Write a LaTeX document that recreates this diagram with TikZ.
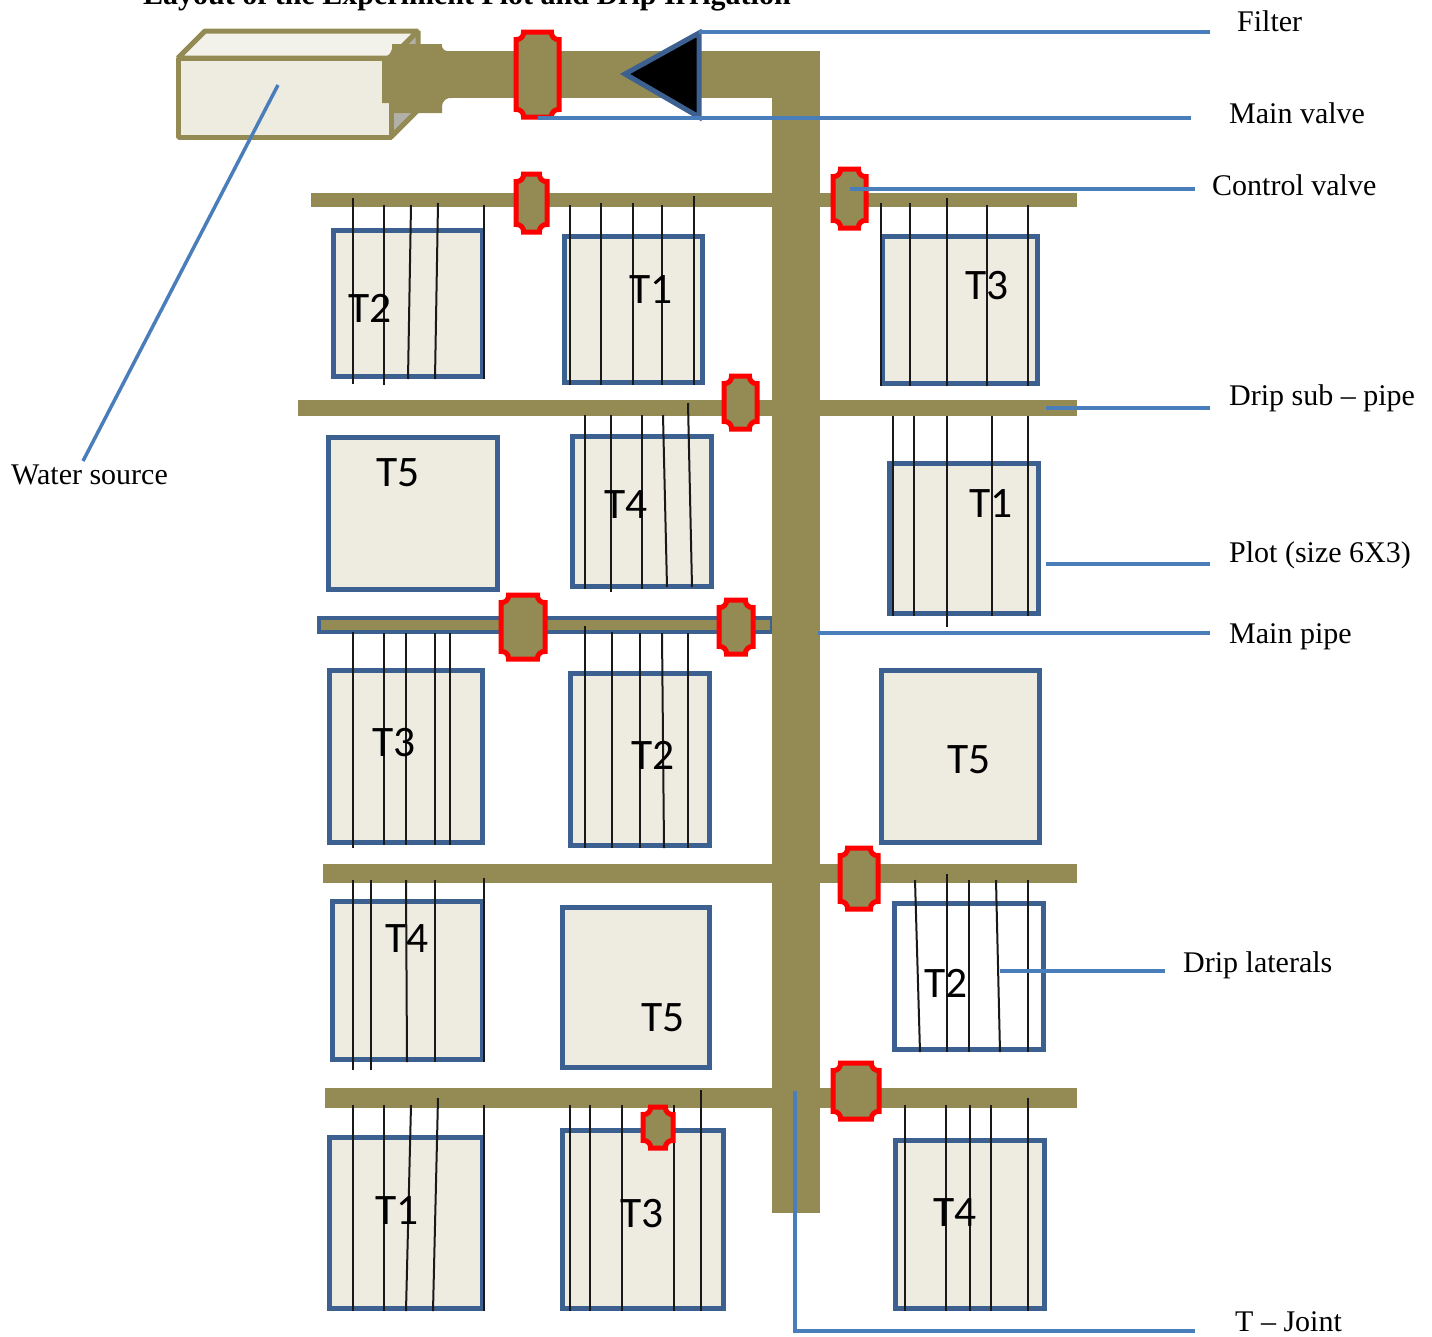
\documentclass[tikz,border=0pt]{standalone}
\usepackage{fontspec}
\setmainfont{Liberation Serif}
\newfontfamily\plotfont{Carlito}
\usetikzlibrary{positioning}

\definecolor{pipecol}{HTML}{948A54}
\definecolor{plotfill}{HTML}{EEECE1}
\definecolor{plotline}{HTML}{3C6090}
\definecolor{leadcol}{HTML}{4A7EBB}

% valve: name, centre x, centre y, outer width, outer height
\newcommand{\valve}[5]{
    \node[valvebox, minimum width=#4-5, minimum height=#5-5] (#1) at (#2,#3) {};
    \draw[valveline] ({#2-#4/2+10},{#3-#5/2+2.5}) -- ({#2+#4/2-10},{#3-#5/2+2.5})
        to[bend right=55] ({#2+#4/2-2.5},{#3-#5/2+10}) -- ({#2+#4/2-2.5},{#3+#5/2-10})
        to[bend right=55] ({#2+#4/2-10},{#3+#5/2-2.5}) -- ({#2-#4/2+10},{#3+#5/2-2.5})
        to[bend right=55] ({#2-#4/2+2.5},{#3+#5/2-10}) -- ({#2-#4/2+2.5},{#3-#5/2+10})
        to[bend right=55] cycle;
}

\begin{document}
\begin{tikzpicture}[
    x=1pt, y=-1pt,
    pipe/.style={fill=pipecol},
    plotbox/.style 2 args={rectangle, draw=plotline, fill=plotfill, line width=5pt, inner sep=0pt, outer sep=0pt, minimum width=#1, minimum height=#2},
    plotlabel/.style={font=\plotfont\fontsize{43.5}{43}\selectfont, inner sep=0pt, xshift=0.7pt, yshift=-0.7pt},
    valvebox/.style={rectangle, inner sep=0pt},
    valveline/.style={draw=red, fill=pipecol, line width=5pt, line join=miter},
    tankline/.style={draw=pipecol, line width=5pt, line join=bevel},
    drip/.style={draw=black!90, line width=2pt},
    leader/.style={draw=leadcol, line width=3.5pt},
    partname/.style={font=\fontsize{30}{30}\selectfont, inner sep=0pt, anchor=base west}
]
    \useasboundingbox (0,0) rectangle (1432,1336);

    % Title
    \node[partname, font=\bfseries\fontsize{30}{30}\selectfont] (title) at (143,4) {Layout of the Experiment Plot and Drip Irrigation};

    % Water source
    \draw[tankline, fill=plotfill!70!white] (178,58) -- (205,31) -- (418,31) -- (391,58) -- cycle;
    \draw[tankline, fill=black!25!plotfill] (391,58) -- (418,31) -- (418,110) -- (391,137) -- cycle;
    \draw[tankline, fill=plotfill] (178,58) rectangle (391,137);
    \fill[pipe] (392,44) -- (442,44) to[bend right=50] (447,51) -- (452,51) -- (452,98)
        to[bend right=50] (442,106) -- (442,113) -- (390,113) -- (390,103) -- (382,103) -- (382,58)
        to[bend right=50] cycle;

    % Pipes
    \fill[pipe] (440,51) rectangle (820,98);
    \fill[pipe] (311,193) rectangle (1077,207);
    \fill[pipe] (298,400) rectangle (1077,416);
    \draw[draw=plotline, line width=4pt, fill=pipecol] (319,618) rectangle (772,632);
    \fill[pipe] (323,864) rectangle (1077,883);
    \fill[pipe] (325,1088) rectangle (1077,1108);
    \fill[pipe] (772,51) rectangle (820,1213);

    % Filter
    \draw[draw=plotline, line width=5pt, fill=black, line join=miter] (625,74) -- (699,33) -- (699,117) -- cycle;

    % Plots
    \node[plotbox={149pt}{146pt}] (plotA) at (408,303.5) {};
    \node[plotbox={138pt}{146pt}] (plotB) at (633.5,309.5) {};
    \node[plotbox={155pt}{147pt}] (plotC) at (960,310) {};
    \node[plotbox={169pt}{152pt}] (plotD) at (413,513.5) {};
    \node[plotbox={139pt}{150pt}] (plotE) at (642,511.5) {};
    \node[plotbox={149pt}{150pt}] (plotF) at (964,538.5) {};
    \node[plotbox={153pt}{172pt}] (plotG) at (406,756.5) {};
    \node[plotbox={139pt}{172pt}] (plotH) at (640,759.5) {};
    \node[plotbox={158pt}{172pt}] (plotI) at (960.5,756.5) {};
    \node[plotbox={150pt}{158pt}] (plotJ) at (407.5,980.5) {};
    \node[plotbox={147pt}{160pt}] (plotK) at (636,987.5) {};
    \node[plotbox={149pt}{146pt}, fill=white] (plotL) at (969,976.5) {};
    \node[plotbox={153pt}{171pt}] (plotM) at (406,1223) {};
    \node[plotbox={161pt}{178pt}] (plotN) at (643,1219.5) {};
    \node[plotbox={149pt}{168pt}] (plotO) at (970,1224.5) {};

    % Drip laterals
    \foreach \xa/\ya/\xb/\yb in {
        353/198/353/384, 384/205/384/385, 411/205/408/379, 438/203/435/379, 484/205/484/379,
        570/205/570/385, 601/203/601/385, 633/203/633/385, 662/205/662/385, 694/196/694/385,
        881/203/881/386, 910/203/910/386, 947/198/947/386, 987/205/987/386, 1028/205/1028/386,
        585/415/585/589, 611/415/611/592, 642/415/642/589, 663/415/667/587, 688/403/692/587,
        893/416/893/616, 914/416/914/616, 947/416/947/627, 992/416/992/616, 1028/416/1028/616,
        353/632/353/848, 384/633/384/845, 406/633/406/845, 435/633/435/845, 450/633/450/845,
        585/626/585/848, 612/632/612/848, 640/633/640/848, 662/633/664/848, 688/633/688/848,
        353/880/353/1070, 371/880/371/1070, 406/880/407/1062, 435/880/435/1062, 484/878/484/1062,
        915/880/920/1052, 947/874/947/1052, 969/880/969/1052, 996/880/1000/1052, 1028/880/1028/1052,
        353/1105/353/1311, 384/1105/384/1311, 411/1105/406/1311, 438/1098/433/1311, 484/1105/484/1311,
        570/1105/570/1311, 590/1105/590/1311, 622/1105/622/1311, 674/1105/674/1311, 701/1090/701/1311,
        905/1105/905/1311, 946/1105/946/1311, 970/1105/970/1311, 991/1105/991/1311, 1028/1098/1028/1311}
        \draw[drip] (\xa,\ya) -- (\xb,\yb);

    % Plot labels
    \node[plotlabel] (labA) at (369,308) {T2};
    \node[plotlabel] (labB) at (650,289) {T1};
    \node[plotlabel] (labC) at (986,285) {T3};
    \node[plotlabel] (labD) at (397,472) {T5};
    \node[plotlabel] (labE) at (625,504) {T4};
    \node[plotlabel] (labF) at (990,503) {T1};
    \node[plotlabel] (labG) at (393,742) {T3};
    \node[plotlabel] (labH) at (652,755) {T2};
    \node[plotlabel] (labI) at (968,759) {T5};
    \node[plotlabel] (labJ) at (406,938) {T4};
    \node[plotlabel] (labK) at (662,1017) {T5};
    \node[plotlabel] (labL) at (945,983) {T2};
    \node[plotlabel] (labM) at (396,1210) {T1};
    \node[plotlabel] (labN) at (641,1213) {T3};
    \node[plotlabel] (labO) at (954,1212) {T4};

    % Valves
    \valve{mainv}{537.5}{74.5}{48}{90}
    \valve{ctrlA}{531.5}{203}{36}{63}
    \valve{ctrlB}{849.5}{198.5}{38}{64}
    \valve{ctrlC}{740.5}{402.5}{38}{58}
    \valve{ctrlD}{523}{627}{49}{69}
    \valve{ctrlE}{736}{627}{39}{59}
    \valve{ctrlF}{859}{878.5}{43}{66}
    \valve{ctrlG}{856}{1091}{51}{61}
    \valve{ctrlH}{658}{1127.5}{35}{46}

    % Names
    \node[partname] (filter) at (1237,31) {Filter};
    \node[partname] (mainvalve) at (1229,123) {Main valve};
    \node[partname] (ctrlvalve) at (1212,195) {Control valve};
    \node[partname] (subpipe) at (1229,405) {Drip sub -- pipe};
    \node[partname] (plotsize) at (1229,562) {Plot (size 6X3)};
    \node[partname] (mainpipe) at (1229,643) {Main pipe};
    \node[partname] (laterals) at (1183,972) {Drip laterals};
    \node[partname] (tjoint) at (1235,1331) {T -- Joint};
    \node[partname] (source) at (11,484) {Water source};

    % Leader ends
    \coordinate (srcA) at (278,85);
    \coordinate (srcB) at (83,461);
    \coordinate (filA) at (699,32);
    \coordinate (filB) at (1210,32);
    \coordinate (valA) at (538,118);
    \coordinate (valB) at (1191,118);
    \coordinate (conA) at (850,189);
    \coordinate (conB) at (1195,189);
    \coordinate (subA) at (1046,408);
    \coordinate (subB) at (1210,408);
    \coordinate (pltA) at (1046,564);
    \coordinate (pltB) at (1210,564);
    \coordinate (mpiA) at (818,633);
    \coordinate (mpiB) at (1210,633);
    \coordinate (latA) at (1000,971);
    \coordinate (latB) at (1165,971);
    \coordinate (jntA) at (795,1091);
    \coordinate (jntB) at (1195,1331);

    % Leaders
    \draw[leader] (srcA) -- (srcB);
    \draw[leader] (filA) -- (filB);
    \draw[leader] (valA) -- (valB);
    \draw[leader] (conA) -- (conB);
    \draw[leader] (subA) -- (subB);
    \draw[leader] (pltA) -- (pltB);
    \draw[leader] (mpiA) -- (mpiB);
    \draw[leader] (latA) -- (latB);
    \draw[leader] (jntA) |- (jntB);

\end{tikzpicture}
\end{document}
